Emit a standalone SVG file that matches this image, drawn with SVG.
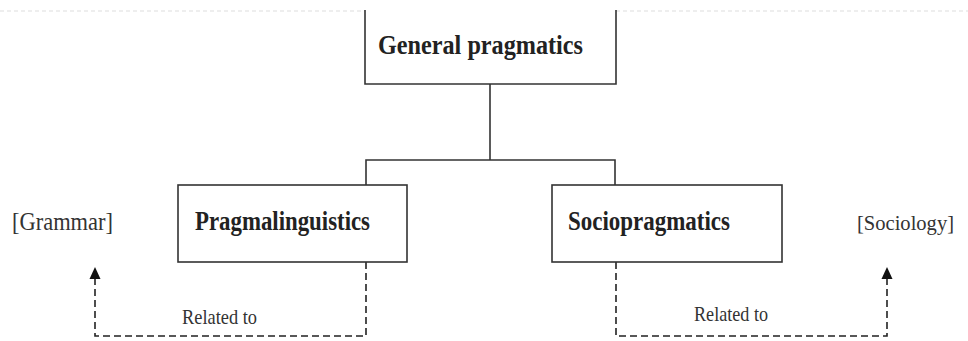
<svg xmlns="http://www.w3.org/2000/svg" width="968" height="341" viewBox="0 0 968 341">
<defs>
<style>
.box{fill:#fff;stroke:#333;stroke-width:1.6}
.ln{fill:none;stroke:#333;stroke-width:1.6}
.dash{fill:none;stroke:#222;stroke-width:1.6;stroke-dasharray:7,4}
.b{font-family:"Liberation Serif",serif;font-weight:bold;fill:#222}
.r{font-family:"Liberation Serif",serif;fill:#333}
</style>
</defs>
<rect width="968" height="341" fill="#fff"/>
<line x1="0" y1="11" x2="968" y2="11" stroke="#ddd" stroke-width="1.2" stroke-dasharray="4,3"/>
<g id="connectors">
<path class="ln" d="M490,84 V160 M366,185 V160 H615 V185"/>
<path class="dash" d="M366,262 V336 H95 V278"/>
<path class="dash" d="M616,262 V336 H887 V278"/>
<path d="M89.5,279 L95,267 L100.5,279 Z" fill="#111"/>
<path d="M881.5,279 L887,267 L892.5,279 Z" fill="#111"/>
<text class="r" x="182" y="324" font-size="22" textLength="75" lengthAdjust="spacingAndGlyphs">Related to</text>
<text class="r" x="694" y="321" font-size="22" textLength="74" lengthAdjust="spacingAndGlyphs">Related to</text>
</g>
<g id="general">
<path class="box" d="M365,10 V84 H616 V10"/>
<text class="b" x="378" y="54" font-size="28" textLength="205" lengthAdjust="spacingAndGlyphs">General pragmatics</text>
</g>
<g id="pragmalinguistics">
<rect class="box" x="178" y="185" width="229" height="77"/>
<text class="b" x="195" y="230" font-size="27" textLength="175" lengthAdjust="spacingAndGlyphs">Pragmalinguistics</text>
</g>
<g id="sociopragmatics">
<rect class="box" x="552" y="185" width="230" height="77"/>
<text class="b" x="568" y="230" font-size="27" textLength="162" lengthAdjust="spacingAndGlyphs">Sociopragmatics</text>
</g>
<g id="grammar">
<text class="r" x="12" y="230" font-size="25" textLength="101" lengthAdjust="spacingAndGlyphs">[Grammar]</text>
</g>
<g id="sociology">
<text class="r" x="857" y="230" font-size="22" textLength="97" lengthAdjust="spacingAndGlyphs">[Sociology]</text>
</g>
</svg>
